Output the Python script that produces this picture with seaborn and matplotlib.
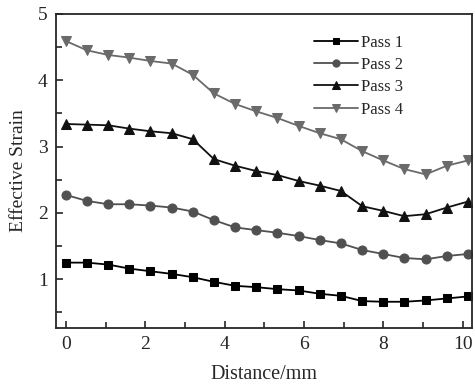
import numpy as np
import pandas as pd
import matplotlib
matplotlib.use("Agg")
import matplotlib.pyplot as plt
from matplotlib.ticker import MultipleLocator
import seaborn as sns

distance = [0, 0.53, 1.07, 1.6, 2.13, 2.67, 3.2, 3.73, 4.27, 4.8,
            5.33, 5.87, 6.4, 6.93, 7.47, 8.0, 8.53, 9.07, 9.6, 10.13]
pass1 = [1.25, 1.25, 1.22, 1.16, 1.12, 1.08, 1.03, 0.96, 0.90, 0.88,
         0.85, 0.83, 0.78, 0.75, 0.67, 0.66, 0.66, 0.68, 0.71, 0.74]
pass2 = [2.27, 2.18, 2.13, 2.13, 2.11, 2.08, 2.02, 1.89, 1.78, 1.74,
         1.70, 1.65, 1.59, 1.54, 1.44, 1.38, 1.32, 1.30, 1.35, 1.38]
pass3 = [3.34, 3.33, 3.32, 3.27, 3.23, 3.20, 3.11, 2.81, 2.71, 2.63,
         2.57, 2.48, 2.41, 2.33, 2.10, 2.03, 1.95, 1.98, 2.08, 2.17]
pass4 = [4.59, 4.45, 4.38, 4.34, 4.29, 4.25, 4.08, 3.80, 3.64, 3.53,
         3.43, 3.31, 3.20, 3.11, 2.93, 2.79, 2.66, 2.58, 2.71, 2.79]
labels = ["Pass 1", "Pass 2", "Pass 3", "Pass 4"]

sns.set_style("ticks")
plt.rcParams["font.family"] = ["Liberation Serif", "DejaVu Serif"]
plt.rcParams["xtick.direction"] = "in"
plt.rcParams["ytick.direction"] = "in"

fig = plt.figure(figsize=(4.75, 3.85), dpi=100)
ax = fig.add_axes([0.118, 0.149, 0.876, 0.815])

styles = [("#000000", "s", 5.5), ("#505050", "o", 6.5),
          ("#111111", "^", 6.5), ("#6a6a6a", "v", 6.5)]
for vals, lab, (c, m, ms) in zip([pass1, pass2, pass3, pass4], labels, styles):
    df = pd.DataFrame({"Distance": distance, "Strain": vals})
    sns.lineplot(data=df, x="Distance", y="Strain", ax=ax, color=c,
                 marker=m, markersize=ms, markeredgecolor=c, linewidth=1.3,
                 label=lab)

ax.set_xlim(-0.25, 10.24)
ax.set_ylim(0.27, 5)
ax.xaxis.set_major_locator(MultipleLocator(2))
ax.xaxis.set_minor_locator(MultipleLocator(1))
ax.yaxis.set_major_locator(MultipleLocator(1))
ax.yaxis.set_minor_locator(MultipleLocator(0.5))
ax.tick_params(which="major", length=5, width=1.2, labelsize=14, pad=6)
ax.tick_params(which="minor", length=4, width=1.2)
for s in ax.spines.values():
    s.set_linewidth(1.3)
ax.set_xlabel("Distance/mm", fontsize=14.5, labelpad=9)
ax.set_ylabel("Effective Strain", fontsize=14, labelpad=8)

leg = ax.legend(loc="upper left", bbox_to_anchor=(0.605, 0.955), frameon=False,
                fontsize=12, handlelength=2.6, labelspacing=0.38,
                handletextpad=0.2, borderaxespad=0, markerscale=0.8)

fig.savefig("out.png", dpi=100)
